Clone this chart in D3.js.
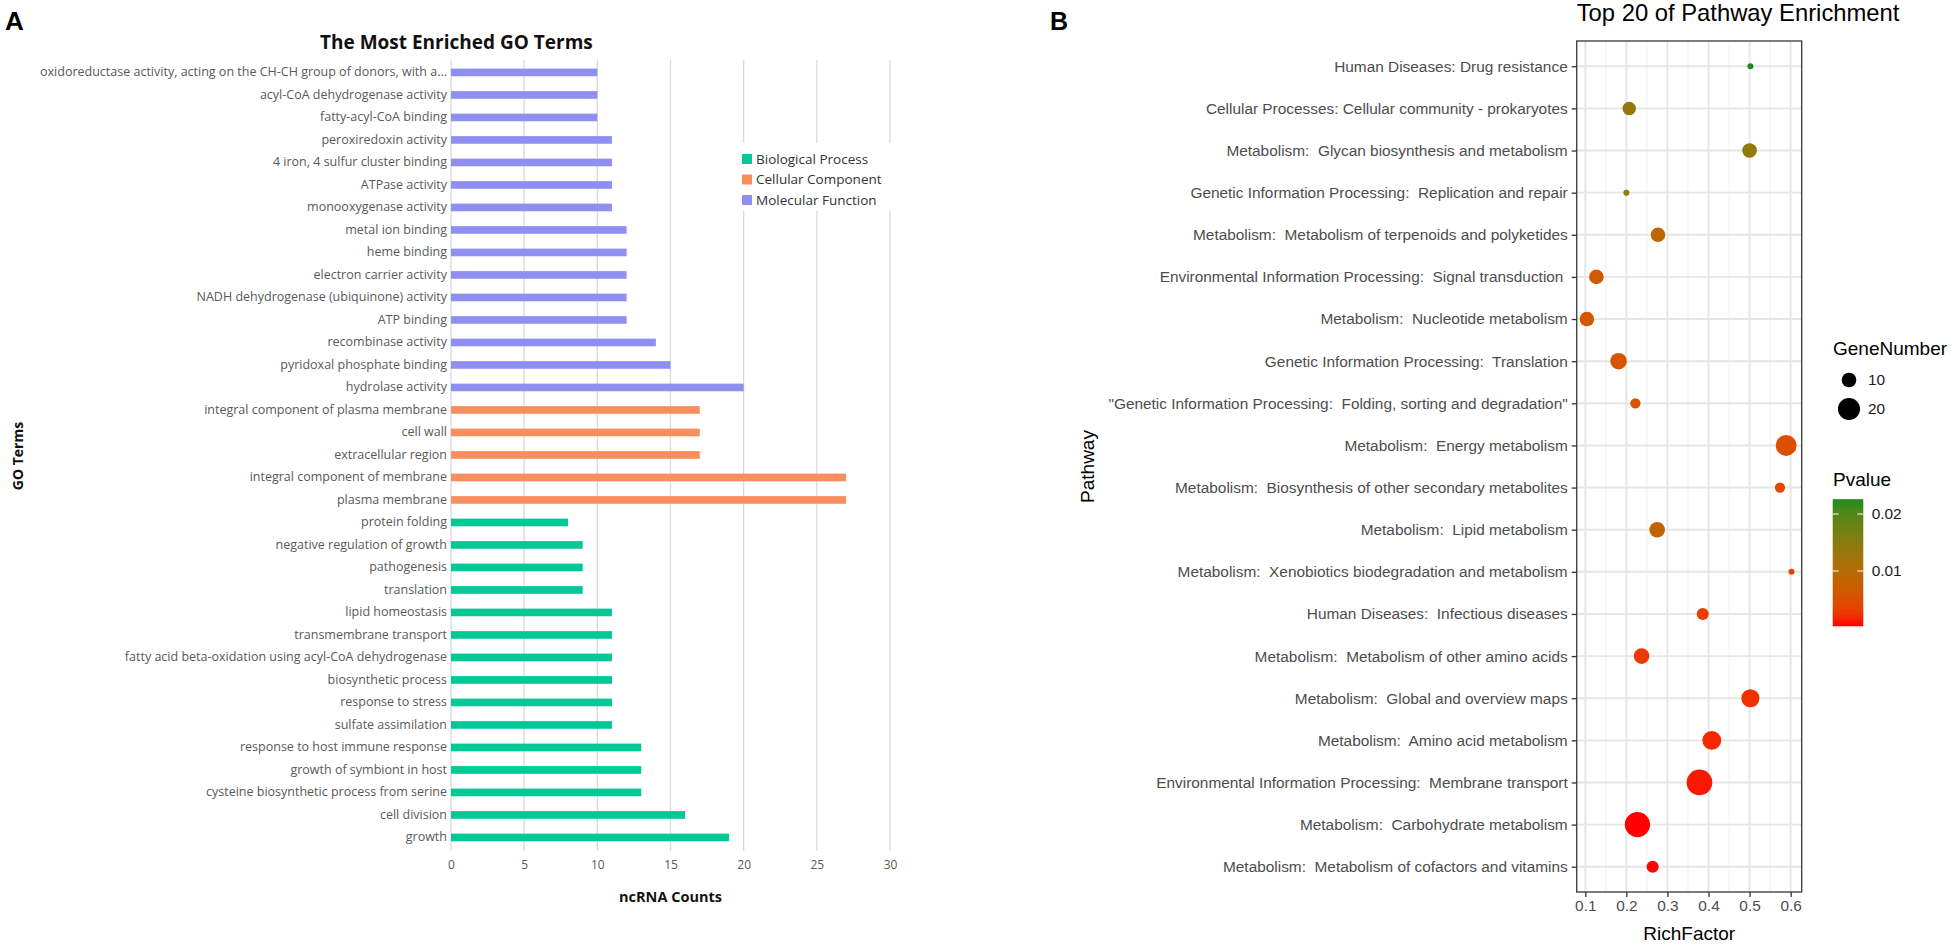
<!DOCTYPE html>
<html>
<head>
<meta charset="utf-8">
<script src="https://cdn.jsdelivr.net/npm/d3@7"></script>
<style>
  body { margin: 0; background: #fff; }
  svg text { white-space: pre; }
</style>
</head>
<body>
<div id="chart"></div>
<script>
// ---- panel A data (top to bottom) ----
var goTerms = [
  'oxidoreductase activity, acting on the CH-CH group of donors, with a...',
  'acyl-CoA dehydrogenase activity',
  'fatty-acyl-CoA binding',
  'peroxiredoxin activity',
  '4 iron, 4 sulfur cluster binding',
  'ATPase activity',
  'monooxygenase activity',
  'metal ion binding',
  'heme binding',
  'electron carrier activity',
  'NADH dehydrogenase (ubiquinone) activity',
  'ATP binding',
  'recombinase activity',
  'pyridoxal phosphate binding',
  'hydrolase activity',
  'integral component of plasma membrane',
  'cell wall',
  'extracellular region',
  'integral component of membrane',
  'plasma membrane',
  'protein folding',
  'negative regulation of growth',
  'pathogenesis',
  'translation',
  'lipid homeostasis',
  'transmembrane transport',
  'fatty acid beta-oxidation using acyl-CoA dehydrogenase',
  'biosynthetic process',
  'response to stress',
  'sulfate assimilation',
  'response to host immune response',
  'growth of symbiont in host',
  'cysteine biosynthetic process from serine',
  'cell division',
  'growth'
];
var goCounts = [10, 10, 10, 11, 11, 11, 11, 12, 12, 12, 12, 12, 14, 15, 20,
  17, 17, 17, 27, 27,
  8, 9, 9, 9, 11, 11, 11, 11, 11, 11, 13, 13, 13, 16, 19];
var goClass = ['MF', 'MF', 'MF', 'MF', 'MF', 'MF', 'MF', 'MF', 'MF', 'MF', 'MF', 'MF', 'MF', 'MF', 'MF',
  'CC', 'CC', 'CC', 'CC', 'CC',
  'BP', 'BP', 'BP', 'BP', 'BP', 'BP', 'BP', 'BP', 'BP', 'BP', 'BP', 'BP', 'BP', 'BP', 'BP'];
var classKeys = ['BP', 'CC', 'MF'];
var classNames = ['Biological Process', 'Cellular Component', 'Molecular Function'];
var classColors = ['#00c896', '#f98e5d', '#8f8ff2'];
var countTicks = [0, 5, 10, 15, 20, 25, 30];

// ---- panel B data (top to bottom) ----
var pathways = [
  'Human Diseases: Drug resistance',
  'Cellular Processes: Cellular community - prokaryotes',
  'Metabolism:  Glycan biosynthesis and metabolism',
  'Genetic Information Processing:  Replication and repair',
  'Metabolism:  Metabolism of terpenoids and polyketides',
  'Environmental Information Processing:  Signal transduction ',
  'Metabolism:  Nucleotide metabolism',
  'Genetic Information Processing:  Translation',
  '"Genetic Information Processing:  Folding, sorting and degradation"',
  'Metabolism:  Energy metabolism',
  'Metabolism:  Biosynthesis of other secondary metabolites',
  'Metabolism:  Lipid metabolism',
  'Metabolism:  Xenobiotics biodegradation and metabolism',
  'Human Diseases:  Infectious diseases',
  'Metabolism:  Metabolism of other amino acids',
  'Metabolism:  Global and overview maps',
  'Metabolism:  Amino acid metabolism',
  'Environmental Information Processing:  Membrane transport',
  'Metabolism:  Carbohydrate metabolism',
  'Metabolism:  Metabolism of cofactors and vitamins'
];
var richFactor = [0.502, 0.207, 0.5, 0.2, 0.277, 0.127, 0.104, 0.181, 0.222, 0.589,
  0.574, 0.275, 0.602, 0.386, 0.237, 0.502, 0.408, 0.378, 0.227, 0.264];
var geneNumber = [6, 9, 10, 6, 10, 10, 10, 12, 7, 18,
  7, 11, 6, 8, 11, 14, 15, 27, 26, 8];
var pValue = [0.0226, 0.0137, 0.0137, 0.0135, 0.0088, 0.0065, 0.0059, 0.0057, 0.0052, 0.0050,
  0.0043, 0.0083, 0.0036, 0.0030, 0.0025, 0.0020, 0.0014, 0.0008, 0.0003, 0.0004];
var richTicks = [0.1, 0.2, 0.3, 0.4, 0.5, 0.6];
var richMinor = [0.15, 0.25, 0.35, 0.45, 0.55];
var sizeBreaks = [10, 20];
var pBreaks = [0.01, 0.02];

var svg = d3.select('#chart').append('svg')
  .attr('width', 1955).attr('height', 946)
  .style('font-family', '"Open Sans", sans-serif');

// ================= Panel A =================
var aFont = '"Open Sans", "Noto Sans", sans-serif';
var xA = d3.scaleLinear().domain([0, 30]).range([451, 890]);
var yA = d3.scaleBand().domain(goTerms).range([61.2, 848.7])
  .paddingInner(0.66).paddingOuter(0.33);
var colorA = d3.scaleOrdinal().domain(classKeys).range(classColors);

var gA = svg.append('g').style('font-family', aFont);

gA.append('text').attr('x', 5).attr('y', 30)
  .style('font-family', 'Arial, "Liberation Sans", sans-serif')
  .style('font-weight', 'bold').style('font-size', '26px').text('A');

gA.append('text').attr('x', 320).attr('y', 49)
  .style('font-weight', 'bold').style('font-size', '19px').attr('fill', '#111')
  .text('The Most Enriched GO Terms');

// gridlines
gA.append('g').selectAll('line').data(countTicks).enter().append('line')
  .attr('x1', (d) => xA(d)).attr('x2', (d) => xA(d))
  .attr('y1', 60).attr('y2', 851)
  .attr('stroke', '#d9d9d9').attr('stroke-width', 1.3);

// bars
gA.append('g').selectAll('rect').data(goTerms).enter().append('rect')
  .attr('x', xA(0))
  .attr('y', (d) => yA(d))
  .attr('height', yA.bandwidth())
  .attr('width', (d, i) => xA(goCounts[i]) - xA(0))
  .attr('fill', (d, i) => colorA(goClass[i]));

// category labels
var axisLeftA = d3.axisLeft(yA).tickSize(0).tickPadding(4);
var gyA = gA.append('g').attr('transform', `translate(${xA(0)},0)`).call(axisLeftA);
gyA.select('.domain').remove();
gyA.selectAll('text').attr('fill', '#595959')
  .style('font-size', '12.5px').style('font-family', aFont);

// count axis
var axisBottomA = d3.axisBottom(xA).tickValues(countTicks).tickSize(0).tickPadding(8);
var gxA = gA.append('g').attr('transform', 'translate(0,852)').call(axisBottomA);
gxA.select('.domain').remove();
gxA.selectAll('text').attr('fill', '#595959')
  .style('font-size', '12px').style('font-family', aFont);

gA.append('text').attr('x', (xA(0) + xA(30)) / 2).attr('y', 902)
  .attr('text-anchor', 'middle')
  .style('font-weight', 'bold').style('font-size', '14.5px').attr('fill', '#111')
  .text('ncRNA Counts');

gA.append('text')
  .attr('transform', 'translate(23,456) rotate(-90)')
  .attr('text-anchor', 'middle')
  .style('font-weight', 'bold').style('font-size', '14px').attr('fill', '#111')
  .text('GO Terms');

// legend
var legA = gA.append('g');
legA.append('rect').attr('x', 735).attr('y', 143).attr('width', 165).attr('height', 68)
  .attr('fill', '#fff');
var legItems = legA.selectAll('g').data(classKeys).enter().append('g')
  .attr('transform', (d, i) => `translate(742,${159 + i * 20.5})`);
legItems.append('rect').attr('x', 0).attr('y', -5).attr('width', 10).attr('height', 10)
  .attr('fill', (d) => colorA(d));
legItems.append('text').attr('x', 14).attr('dy', '0.35em')
  .style('font-size', '13.5px').attr('fill', '#333')
  .text((d, i) => classNames[i]);

// ================= Panel B =================
var bFont = 'Arial, "Liberation Sans", Helvetica, sans-serif';
var gB = svg.append('g').style('font-family', bFont);

var plotB = { left: 1576.7, right: 1801.7, top: 41, bottom: 892 };
var rfExt = d3.extent(richFactor);
var rfPad = (rfExt[1] - rfExt[0]) * 0.05;
var xB = d3.scaleLinear().domain([rfExt[0] - rfPad, rfExt[1] + rfPad])
  .range([plotB.left, plotB.right]);
var yB = d3.scalePoint().domain(pathways).range([plotB.top, plotB.bottom]).padding(0.6);

var gnExt = d3.extent(geneNumber);
var sizeB = d3.scaleLinear().domain([0, 1]).range([6, 25.7]);
function diam(v) {
  return sizeB(Math.sqrt((v - gnExt[0]) / (gnExt[1] - gnExt[0])));
}
var pExt = d3.extent(pValue);
var colorB = d3.scaleLinear().domain(pExt).range(['#ff0000', '#1f8b1f'])
  .interpolate(d3.interpolateLab);

gB.append('text').attr('x', 1050).attr('y', 30)
  .style('font-weight', 'bold').style('font-size', '25px').text('B');

gB.append('text').attr('x', plotB.left).attr('y', 21)
  .style('font-size', '23.8px').attr('fill', '#000')
  .text('Top 20 of Pathway Enrichment');

// panel background + grid
gB.append('rect').attr('x', plotB.left).attr('y', plotB.top)
  .attr('width', plotB.right - plotB.left).attr('height', plotB.bottom - plotB.top)
  .attr('fill', '#fff');
gB.append('g').selectAll('line').data(richMinor).enter().append('line')
  .attr('x1', (d) => xB(d)).attr('x2', (d) => xB(d))
  .attr('y1', plotB.top).attr('y2', plotB.bottom)
  .attr('stroke', '#f0f0f0').attr('stroke-width', 1);
gB.append('g').selectAll('line').data(richTicks).enter().append('line')
  .attr('x1', (d) => xB(d)).attr('x2', (d) => xB(d))
  .attr('y1', plotB.top).attr('y2', plotB.bottom)
  .attr('stroke', '#e6e6e6').attr('stroke-width', 1.9);
gB.append('g').selectAll('line').data(pathways).enter().append('line')
  .attr('x1', plotB.left).attr('x2', plotB.right)
  .attr('y1', (d) => yB(d)).attr('y2', (d) => yB(d))
  .attr('stroke', '#e6e6e6').attr('stroke-width', 1.9);

// points
gB.append('g').selectAll('circle').data(pathways).enter().append('circle')
  .attr('cx', (d, i) => xB(richFactor[i]))
  .attr('cy', (d) => yB(d))
  .attr('r', (d, i) => diam(geneNumber[i]) / 2)
  .attr('fill', (d, i) => colorB(pValue[i]));

gB.append('rect').attr('x', plotB.left).attr('y', plotB.top)
  .attr('width', plotB.right - plotB.left).attr('height', plotB.bottom - plotB.top)
  .attr('fill', 'none').attr('stroke', '#444').attr('stroke-width', 1.4);

// axes
var gyB = gB.append('g').attr('transform', `translate(${plotB.left},0)`)
  .call(d3.axisLeft(yB).tickSize(5).tickPadding(4));
gyB.select('.domain').remove();
gyB.selectAll('line').attr('stroke', '#333').attr('stroke-width', 1.3);
gyB.selectAll('text').attr('fill', '#4d4d4d').style('font-size', '15.4px')
  .style('font-family', bFont);

var gxB = gB.append('g').attr('transform', `translate(0,${plotB.bottom})`)
  .call(d3.axisBottom(xB).tickValues(richTicks).tickSize(5).tickPadding(3)
    .tickFormat(d3.format('.1f')));
gxB.select('.domain').remove();
gxB.selectAll('line').attr('stroke', '#333').attr('stroke-width', 1.3);
gxB.selectAll('text').attr('fill', '#4d4d4d').style('font-size', '15.4px')
  .style('font-family', bFont);

gB.append('text').attr('x', (plotB.left + plotB.right) / 2).attr('y', 940)
  .attr('text-anchor', 'middle').style('font-size', '19px').text('RichFactor');
gB.append('text').attr('transform', `translate(1094,${(plotB.top + plotB.bottom) / 2}) rotate(-90)`)
  .attr('text-anchor', 'middle').style('font-size', '19px').text('Pathway');

// size legend
var legB = gB.append('g');
legB.append('text').attr('x', 1833).attr('y', 355).style('font-size', '19px').text('GeneNumber');
var sizeItems = legB.selectAll('g.sz').data(sizeBreaks).enter().append('g')
  .attr('class', 'sz')
  .attr('transform', (d, i) => `translate(1849,${380 + i * 29})`);
sizeItems.append('circle').attr('r', (d) => diam(d) / 2).attr('fill', '#000');
sizeItems.append('text').attr('x', 19).attr('dy', '0.35em')
  .style('font-size', '15.4px').attr('fill', '#1a1a1a').text((d) => d);

// p-value colourbar
legB.append('text').attr('x', 1833).attr('y', 486).style('font-size', '19px').text('Pvalue');
var defs = svg.append('defs');
var grad = defs.append('linearGradient').attr('id', 'pgrad')
  .attr('x1', 0).attr('y1', 1).attr('x2', 0).attr('y2', 0);
d3.range(0, 1.0001, 0.1).forEach(function (t) {
  grad.append('stop').attr('offset', t)
    .attr('stop-color', colorB(pExt[0] + t * (pExt[1] - pExt[0])));
});
var barY = d3.scaleLinear().domain([0.01, 0.02]).range([571, 514]);
legB.append('rect').attr('x', 1832.7).attr('y', barY(pExt[1]))
  .attr('width', 30.6).attr('height', barY(pExt[0]) - barY(pExt[1]))
  .attr('fill', 'url(#pgrad)');
var pTicks = legB.selectAll('g.pt').data(pBreaks).enter().append('g')
  .attr('class', 'pt').attr('transform', (d) => `translate(0,${barY(d)})`);
pTicks.append('line').attr('x1', 1832.7).attr('x2', 1838.7)
  .attr('stroke', '#fff').attr('stroke-width', 1);
pTicks.append('line').attr('x1', 1857.3).attr('x2', 1863.3)
  .attr('stroke', '#fff').attr('stroke-width', 1);
pTicks.append('text').attr('x', 1871.7).attr('dy', '0.35em')
  .style('font-size', '15.4px').attr('fill', '#1a1a1a').text((d) => d);
</script>
</body>
</html>
